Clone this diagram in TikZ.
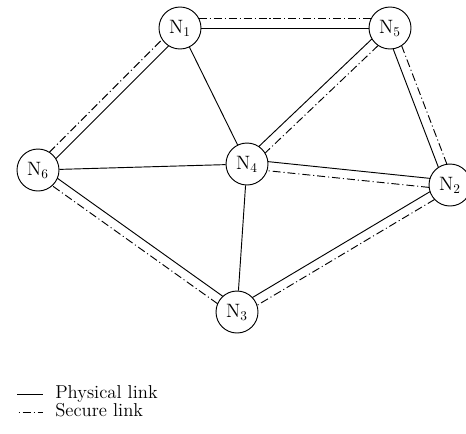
\documentclass[tikz,border=0pt]{standalone}
\usepackage{tikz}
\usetikzlibrary{calc}

\tikzset{
    netnode/.style={circle,draw,line width=0.7pt,fill=white,minimum size=31.5pt,inner sep=0pt,
        font=\fontsize{14.5}{17}\selectfont},
    physical/.style={line width=0.7pt},
    secure/.style={line width=0.7pt,dash pattern=on 6pt off 2.2pt on 0.8pt off 2.2pt},
    legendtext/.style={anchor=base west,inner sep=0pt,font=\fontsize{14}{16}\selectfont}
}

% link drawn beside the centre line: style, from, to, side offset, distance along
\newcommand{\sidelink}[5]{%
    \draw[#1] ($($(#2.center)!#5!(#3.center)$)!#4!90:(#3.center)$)
        -- ($($(#3.center)!#5!(#2.center)$)!#4!-90:(#2.center)$);}

\begin{document}
\begin{tikzpicture}[x=0.75pt,y=-0.75pt]
    \useasboundingbox (0,0) rectangle (466,433);

    % draw nodes
    \node[netnode] (n1) at (180,28) {N$_1$};
    \node[netnode] (n5) at (390,28) {N$_5$};
    \node[netnode] (n4) at (247,164) {N$_4$};
    \node[netnode] (n2) at (450,185) {N$_2$};
    \node[netnode] (n6) at (38,170) {N$_6$};
    \node[netnode] (n3) at (237,312) {N$_3$};

    % physical links through the centres
    \draw[physical] (n1) -- (n4);
    \draw[physical] (n6) -- (n4);
    \draw[physical] (n4) -- (n3);
    \draw[physical] (n1) -- (n5);

    % physical and secure links side by side
    \sidelink{secure}{n1}{n5}{7.1pt}{14.1pt}
    \sidelink{physical}{n6}{n1}{-3.4pt}{15.4pt}
    \sidelink{secure}{n6}{n1}{3.4pt}{15.4pt}
    \sidelink{physical}{n5}{n4}{-3.4pt}{15.4pt}
    \sidelink{secure}{n5}{n4}{3.4pt}{15.4pt}
    \sidelink{physical}{n5}{n2}{-3.4pt}{15.4pt}
    \sidelink{secure}{n5}{n2}{3.4pt}{15.4pt}
    \sidelink{physical}{n2}{n4}{-3.4pt}{15.4pt}
    \sidelink{secure}{n2}{n4}{3.4pt}{15.4pt}
    \sidelink{physical}{n3}{n6}{-3.4pt}{15.4pt}
    \sidelink{secure}{n3}{n6}{3.4pt}{15.4pt}
    \sidelink{physical}{n2}{n3}{-3.4pt}{15.4pt}
    \sidelink{secure}{n2}{n3}{3.4pt}{15.4pt}

    % legend
    \coordinate (physa) at (17,394);
    \coordinate (physb) at (43,394);
    \coordinate (seca) at (17,412);
    \coordinate (secb) at (43,412);
    \draw[physical] (physa) -- (physb);
    \draw[secure,dash phase=7pt] (seca) -- (secb);
    \node[legendtext] (physlabel) at (55,398) {Physical link};
    \node[legendtext] (seclabel) at (55,416.5) {Secure link};
\end{tikzpicture}
\end{document}
